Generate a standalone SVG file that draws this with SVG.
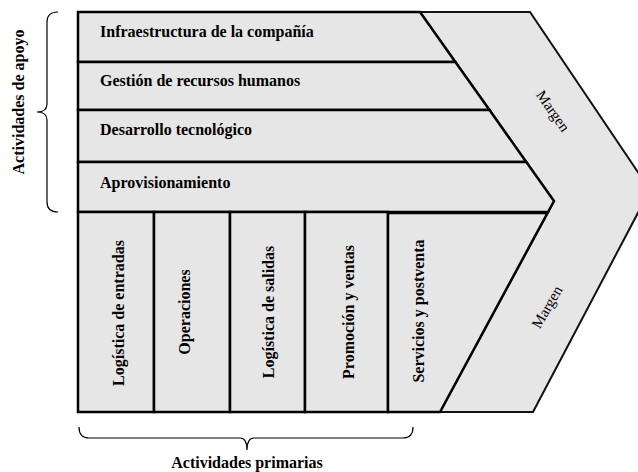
<svg xmlns="http://www.w3.org/2000/svg" width="638" height="472" viewBox="0 0 638 472">
<style>
.box{fill:#e6e6e6;stroke:#000;stroke-width:2.5;stroke-linejoin:miter}
.chev{fill:#e6e6e6;stroke:#111;stroke-width:2}
.lbl{font-family:"Liberation Serif","Times New Roman",serif;font-weight:bold;font-size:16px;fill:#000}
.mg{font-family:"Liberation Serif","Times New Roman",serif;font-size:15px;fill:#000;text-anchor:middle}
.brace{fill:none;stroke:#000;stroke-width:1.2}
</style>
<rect width="638" height="472" fill="#fff"/>
<g id="margen">
<polygon class="chev" points="420,12 530,12 650,190 533,412 440,412 554,201"/>
<text class="mg" transform="translate(553,111) rotate(55)" y="5">Margen</text>
<text class="mg" transform="translate(547,307) rotate(-60)" y="5">Margen</text>
</g>
<g id="infraestructura">
<polygon class="box" points="78,12 420,12 455.4,62 78,62"/>
<text class="lbl" x="100" y="37">Infraestructura de la compañía</text>
</g>
<g id="rrhh">
<polygon class="box" points="78,62 455.4,62 489.5,110 78,110"/>
<text class="lbl" x="100" y="86">Gestión de recursos humanos</text>
</g>
<g id="tecnologia">
<polygon class="box" points="78,110 489.5,110 526.3,162 78,162"/>
<text class="lbl" x="100" y="135">Desarrollo tecnológico</text>
</g>
<g id="aprovisionamiento">
<polygon class="box" points="78,162 526.3,162 554,201 548,212 78,212"/>
<text class="lbl" x="100" y="188">Aprovisionamiento</text>
</g>
<g id="logistica-entradas">
<rect class="box" x="78" y="212" width="76" height="200"/>
<text class="lbl" transform="translate(124,313) rotate(-90)" text-anchor="middle">Logística de entradas</text>
</g>
<g id="operaciones">
<rect class="box" x="154" y="212" width="76" height="200"/>
<text class="lbl" transform="translate(190,312) rotate(-90)" text-anchor="middle">Operaciones</text>
</g>
<g id="logistica-salidas">
<rect class="box" x="230" y="212" width="75" height="200"/>
<text class="lbl" transform="translate(274,312) rotate(-90)" text-anchor="middle">Logística de salidas</text>
</g>
<g id="promocion">
<rect class="box" x="305" y="212" width="83" height="200"/>
<text class="lbl" transform="translate(354,312) rotate(-90)" text-anchor="middle">Promoción y ventas</text>
</g>
<g id="servicios">
<polygon class="box" points="388,213 547.5,213 440,412 388,412"/>
<text class="lbl" transform="translate(424,311) rotate(-90)" text-anchor="middle">Servicios y postventa</text>
</g>
<g id="apoyo">
<path class="brace" d="M58,12 Q47,12 47,22 L47,104 Q47,112 37,112 Q47,112 47,120 L47,202 Q47,212 58,212"/>
<text class="lbl" transform="translate(24,102) rotate(-90)" text-anchor="middle">Actividades de apoyo</text>
</g>
<g id="primarias">
<path class="brace" d="M79,427 Q79,438 89,438 L240,438 Q247,438 247,450 Q247,438 254,438 L403,438 Q413,438 413,427"/>
<text class="lbl" x="247" y="468" text-anchor="middle">Actividades primarias</text>
</g>
</svg>
